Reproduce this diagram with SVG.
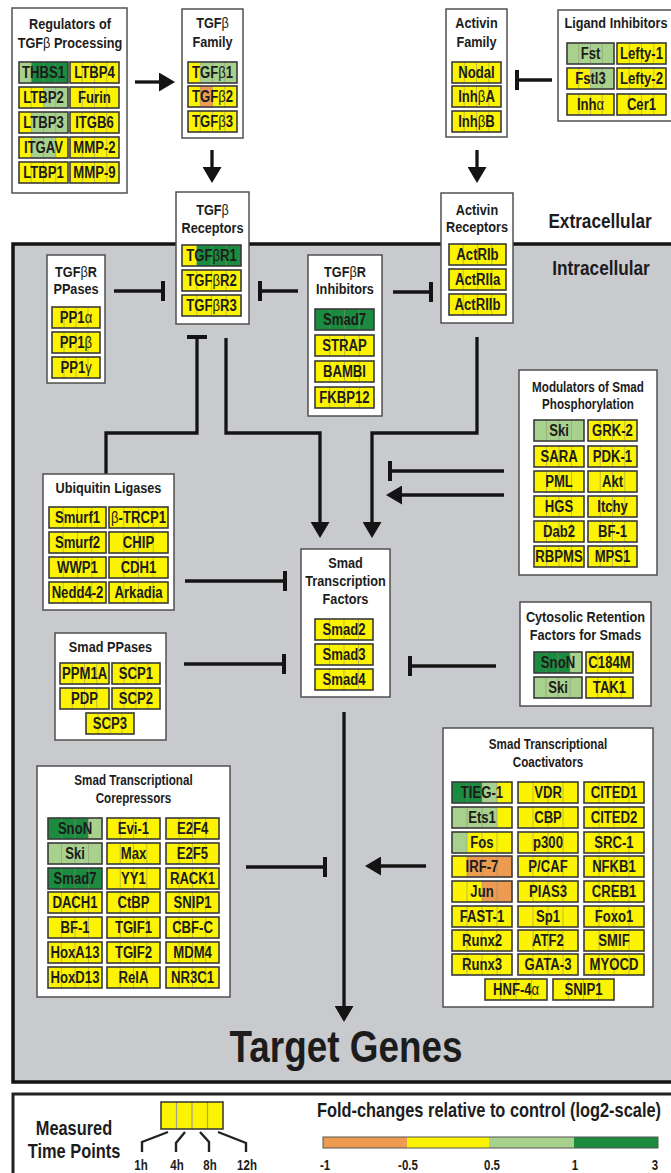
<svg xmlns="http://www.w3.org/2000/svg" width="671" height="1173" viewBox="0 0 671 1173">
<defs>
<style>
.n{fill:#fff;stroke:#505050;stroke-width:1.5}
.cb{fill:none;stroke:#3a3a3a;stroke-width:1.6}
.y{fill:#fbf300}.lg{fill:#a9d18e}.dg{fill:#1b8b3f}.o{fill:#ee9b52}
.dv{fill:none;stroke:#8f8f70;stroke-width:.9;stroke-opacity:.6}
text{font-family:"Liberation Sans",Arial,sans-serif;font-weight:bold;fill:#1c1c1c;text-anchor:middle;transform-box:fill-box;transform-origin:center;transform:scaleX(0.82)}
.ct{font-size:16px}
.tt{font-size:15.5px}
.ts{font-size:14.2px}
.g{font-weight:normal}
.ln{fill:none;stroke:#141414;stroke-width:3.3}
.ar{marker-end:url(#arr)}
.in{marker-end:url(#tee)}
.br{fill:none;stroke:#222;stroke-width:2.4}
</style>
<marker id="arr" markerUnits="userSpaceOnUse" viewBox="0 0 16 19" markerWidth="16" markerHeight="19" refX="8" refY="9.5" orient="auto"><path d="M0 0L16 9.5L0 19z" fill="#141414"/></marker>
<marker id="tee" markerUnits="userSpaceOnUse" viewBox="0 0 4 20" markerWidth="4" markerHeight="20" refX="2" refY="10" orient="auto"><rect width="4" height="20" fill="#141414"/></marker>
</defs>
<rect width="671" height="1173" fill="#fff"/>
<rect id="intracellular" x="13" y="244" width="700" height="838" fill="#c9cacd" stroke="#141414" stroke-width="3.5"/>
<text x="600" y="228" style="font-size:21px">Extracellular</text>
<text x="601" y="275" style="font-size:21px">Intracellular</text>

<g id="connectors">
<path class="ln ar" d="M135 82H167"/>
<path class="ln ar" d="M212 150V175"/>
<path class="ln ar" d="M477 150V175"/>
<path class="ln in" d="M552 80H517"/>
<path class="ln in" d="M114 291H163"/>
<path class="ln in" d="M298 291H260"/>
<path class="ln in" d="M393 292H431"/>
<path class="ln in" d="M106 474V433H197V337"/>
<path class="ln ar" d="M226 338V433H320V530"/>
<path class="ln ar" d="M477 337V433H372V530"/>
<path class="ln in" d="M504 471H390"/>
<path class="ln ar" d="M504 495H394"/>
<path class="ln in" d="M185 581H285"/>
<path class="ln in" d="M184 664H284"/>
<path class="ln in" d="M496 666H410"/>
<path class="ln ar" d="M344 712V1014"/>
<path class="ln ar" d="M426 866H373"/>
<path class="ln in" d="M246 867H325"/>
</g>

<g id="regulators">
<rect class="n" x="12" y="8" width="115" height="185"/>
<text class="tt" x="70" y="29">Regulators of</text>
<text class="tt" x="70" y="48">TGF<tspan class="g">β</tspan> Processing</text>
<g transform="translate(19 62)"><rect class="lg" width="12.25" height="21"/><rect class="dg" x="12.25" width="36.75" height="21"/><path class="dv" d="M12.25 0v21M24.5 0v21M36.75 0v21"/><rect class="cb" width="49" height="21"/><text class="ct" x="24.5" y="16.5">THBS1</text></g>
<g transform="translate(70 62)"><rect class="y" width="49" height="21"/><path class="dv" d="M12.25 0v21M24.5 0v21M36.75 0v21"/><rect class="cb" width="49" height="21"/><text class="ct" x="24.5" y="16.5">LTBP4</text></g>
<g transform="translate(19 87)"><rect class="y" width="24.5" height="21"/><rect class="lg" x="24.5" width="24.5" height="21"/><path class="dv" d="M12.25 0v21M24.5 0v21M36.75 0v21"/><rect class="cb" width="49" height="21"/><text class="ct" x="24.5" y="16.5">LTBP2</text></g>
<g transform="translate(70 87)"><rect class="y" width="49" height="21"/><path class="dv" d="M12.25 0v21M24.5 0v21M36.75 0v21"/><rect class="cb" width="49" height="21"/><text class="ct" x="24.5" y="16.5">Furin</text></g>
<g transform="translate(19 112)"><rect class="y" width="12.25" height="21"/><rect class="lg" x="12.25" width="36.75" height="21"/><path class="dv" d="M12.25 0v21M24.5 0v21M36.75 0v21"/><rect class="cb" width="49" height="21"/><text class="ct" x="24.5" y="16.5">LTBP3</text></g>
<g transform="translate(70 112)"><rect class="y" width="49" height="21"/><path class="dv" d="M12.25 0v21M24.5 0v21M36.75 0v21"/><rect class="cb" width="49" height="21"/><text class="ct" x="24.5" y="16.5">ITGB6</text></g>
<g transform="translate(19 137)"><rect class="y" width="49" height="21"/><rect class="lg" x="12.25" width="24.5" height="21"/><path class="dv" d="M12.25 0v21M24.5 0v21M36.75 0v21"/><rect class="cb" width="49" height="21"/><text class="ct" x="24.5" y="16.5">ITGAV</text></g>
<g transform="translate(70 137)"><rect class="y" width="49" height="21"/><path class="dv" d="M12.25 0v21M24.5 0v21M36.75 0v21"/><rect class="cb" width="49" height="21"/><text class="ct" x="24.5" y="16.5">MMP-2</text></g>
<g transform="translate(19 162)"><rect class="y" width="49" height="21"/><path class="dv" d="M12.25 0v21M24.5 0v21M36.75 0v21"/><rect class="cb" width="49" height="21"/><text class="ct" x="24.5" y="16.5">LTBP1</text></g>
<g transform="translate(70 162)"><rect class="y" width="49" height="21"/><path class="dv" d="M12.25 0v21M24.5 0v21M36.75 0v21"/><rect class="cb" width="49" height="21"/><text class="ct" x="24.5" y="16.5">MMP-9</text></g>
</g>

<g id="tgfb-family">
<rect class="n" x="182" y="9" width="61" height="129"/>
<text class="tt" x="212.5" y="28">TGF<tspan class="g">β</tspan></text>
<text class="tt" x="212.5" y="47">Family</text>
<g transform="translate(188 62)"><rect class="y" width="12.25" height="21"/><rect class="lg" x="12.25" width="36.75" height="21"/><path class="dv" d="M12.25 0v21M24.5 0v21M36.75 0v21"/><rect class="cb" width="49" height="21"/><text class="ct" x="24.5" y="16.5">TGF<tspan class="g">β</tspan>1</text></g>
<g transform="translate(188 86)"><rect class="y" width="49" height="21"/><rect class="o" x="12.25" width="12.25" height="21"/><path class="dv" d="M12.25 0v21M24.5 0v21M36.75 0v21"/><rect class="cb" width="49" height="21"/><text class="ct" x="24.5" y="16.5">TGF<tspan class="g">β</tspan>2</text></g>
<g transform="translate(188 111)"><rect class="y" width="49" height="21"/><path class="dv" d="M12.25 0v21M24.5 0v21M36.75 0v21"/><rect class="cb" width="49" height="21"/><text class="ct" x="24.5" y="16.5">TGF<tspan class="g">β</tspan>3</text></g>
</g>

<g id="activin-family">
<rect class="n" x="446" y="9" width="61" height="128"/>
<text class="tt" x="476.5" y="28">Activin</text>
<text class="tt" x="476.5" y="47">Family</text>
<g transform="translate(452 62)"><rect class="y" width="49" height="21"/><path class="dv" d="M12.25 0v21M24.5 0v21M36.75 0v21"/><rect class="cb" width="49" height="21"/><text class="ct" x="24.5" y="16.5">Nodal</text></g>
<g transform="translate(452 86)"><rect class="y" width="49" height="21"/><path class="dv" d="M12.25 0v21M24.5 0v21M36.75 0v21"/><rect class="cb" width="49" height="21"/><text class="ct" x="24.5" y="16.5">Inh<tspan class="g">β</tspan>A</text></g>
<g transform="translate(452 111)"><rect class="y" width="49" height="21"/><path class="dv" d="M12.25 0v21M24.5 0v21M36.75 0v21"/><rect class="cb" width="49" height="21"/><text class="ct" x="24.5" y="16.5">Inh<tspan class="g">β</tspan>B</text></g>
</g>

<g id="ligand-inhibitors">
<rect class="n" x="558" y="10" width="130" height="111"/>
<text class="tt" x="616" y="28">Ligand Inhibitors</text>
<g transform="translate(567 43)"><rect class="lg" width="47" height="21"/><path class="dv" d="M11.75 0v21M23.5 0v21M35.25 0v21"/><rect class="cb" width="47" height="21"/><text class="ct" x="23.5" y="16.5">Fst</text></g>
<g transform="translate(617 43)"><rect class="y" width="49" height="21"/><path class="dv" d="M12.25 0v21M24.5 0v21M36.75 0v21"/><rect class="cb" width="49" height="21"/><text class="ct" x="24.5" y="16.5">Lefty-1</text></g>
<g transform="translate(567 68)"><rect class="y" width="23.5" height="21"/><rect class="lg" x="23.5" width="23.5" height="21"/><path class="dv" d="M11.75 0v21M23.5 0v21M35.25 0v21"/><rect class="cb" width="47" height="21"/><text class="ct" x="23.5" y="16.5">Fstl3</text></g>
<g transform="translate(617 68)"><rect class="y" width="49" height="21"/><path class="dv" d="M12.25 0v21M24.5 0v21M36.75 0v21"/><rect class="cb" width="49" height="21"/><text class="ct" x="24.5" y="16.5">Lefty-2</text></g>
<g transform="translate(567 94)"><rect class="y" width="47" height="21"/><path class="dv" d="M11.75 0v21M23.5 0v21M35.25 0v21"/><rect class="cb" width="47" height="21"/><text class="ct" x="23.5" y="16.5">Inh<tspan class="g">α</tspan></text></g>
<g transform="translate(617 94)"><rect class="y" width="49" height="21"/><path class="dv" d="M12.25 0v21M24.5 0v21M36.75 0v21"/><rect class="cb" width="49" height="21"/><text class="ct" x="24.5" y="16.5">Cer1</text></g>
</g>

<g id="tgfb-receptors">
<rect class="n" x="176" y="192" width="73" height="132"/>
<text class="tt" x="212.5" y="215">TGF<tspan class="g">β</tspan></text>
<text class="tt" x="212.5" y="233">Receptors</text>
<g transform="translate(182 245)"><rect class="y" width="14.75" height="21"/><rect class="dg" x="14.75" width="44.25" height="21"/><path class="dv" d="M14.75 0v21M29.5 0v21M44.25 0v21"/><rect class="cb" width="59" height="21"/><text class="ct" x="29.5" y="16.5">TGF<tspan class="g">β</tspan>R1</text></g>
<g transform="translate(182 270)"><rect class="y" width="59" height="21"/><path class="dv" d="M14.75 0v21M29.5 0v21M44.25 0v21"/><rect class="cb" width="59" height="21"/><text class="ct" x="29.5" y="16.5">TGF<tspan class="g">β</tspan>R2</text></g>
<g transform="translate(182 295)"><rect class="y" width="59" height="21"/><path class="dv" d="M14.75 0v21M29.5 0v21M44.25 0v21"/><rect class="cb" width="59" height="21"/><text class="ct" x="29.5" y="16.5">TGF<tspan class="g">β</tspan>R3</text></g>
</g>

<g id="activin-receptors">
<rect class="n" x="441" y="193" width="72" height="130"/>
<text class="tt" x="477" y="215">Activin</text>
<text class="tt" x="477" y="232">Receptors</text>
<g transform="translate(449 244)"><rect class="y" width="57" height="21"/><path class="dv" d="M14.25 0v21M28.5 0v21M42.75 0v21"/><rect class="cb" width="57" height="21"/><text class="ct" x="28.5" y="16.5">ActRIb</text></g>
<g transform="translate(449 269)"><rect class="y" width="57" height="21"/><path class="dv" d="M14.25 0v21M28.5 0v21M42.75 0v21"/><rect class="cb" width="57" height="21"/><text class="ct" x="28.5" y="16.5">ActRIIa</text></g>
<g transform="translate(449 294)"><rect class="y" width="57" height="21"/><path class="dv" d="M14.25 0v21M28.5 0v21M42.75 0v21"/><rect class="cb" width="57" height="21"/><text class="ct" x="28.5" y="16.5">ActRIIb</text></g>
</g>

<g id="tgfbr-ppases">
<rect class="n" x="47" y="255" width="58" height="128"/>
<text class="tt" x="76" y="277">TGF<tspan class="g">β</tspan>R</text>
<text class="tt" x="76" y="294">PPases</text>
<g transform="translate(52 307)"><rect class="y" width="48" height="21"/><path class="dv" d="M12 0v21M24 0v21M36 0v21"/><rect class="cb" width="48" height="21"/><text class="ct" x="24" y="16.5">PP1<tspan class="g">α</tspan></text></g>
<g transform="translate(52 332)"><rect class="y" width="48" height="21"/><path class="dv" d="M12 0v21M24 0v21M36 0v21"/><rect class="cb" width="48" height="21"/><text class="ct" x="24" y="16.5">PP1<tspan class="g">β</tspan></text></g>
<g transform="translate(52 357)"><rect class="y" width="48" height="21"/><path class="dv" d="M12 0v21M24 0v21M36 0v21"/><rect class="cb" width="48" height="21"/><text class="ct" x="24" y="16.5">PP1<tspan class="g">γ</tspan></text></g>
</g>

<g id="tgfbr-inhibitors">
<rect class="n" x="308" y="255" width="74" height="161"/>
<text class="tt" x="345" y="277">TGF<tspan class="g">β</tspan>R</text>
<text class="tt" x="345" y="294">Inhibitors</text>
<g transform="translate(315 309)"><rect class="dg" width="59" height="21"/><path class="dv" d="M14.75 0v21M29.5 0v21M44.25 0v21"/><rect class="cb" width="59" height="21"/><text class="ct" x="29.5" y="16.5">Smad7</text></g>
<g transform="translate(315 335)"><rect class="y" width="59" height="21"/><path class="dv" d="M14.75 0v21M29.5 0v21M44.25 0v21"/><rect class="cb" width="59" height="21"/><text class="ct" x="29.5" y="16.5">STRAP</text></g>
<g transform="translate(315 361)"><rect class="y" width="59" height="21"/><path class="dv" d="M14.75 0v21M29.5 0v21M44.25 0v21"/><rect class="cb" width="59" height="21"/><text class="ct" x="29.5" y="16.5">BAMBI</text></g>
<g transform="translate(315 387)"><rect class="y" width="59" height="21"/><path class="dv" d="M14.75 0v21M29.5 0v21M44.25 0v21"/><rect class="cb" width="59" height="21"/><text class="ct" x="29.5" y="16.5">FKBP12</text></g>
</g>

<g id="ubiquitin-ligases">
<rect class="n" x="43" y="474" width="131" height="136"/>
<text class="tt" x="108.5" y="493">Ubiquitin Ligases</text>
<g transform="translate(49 507)"><rect class="y" width="57" height="21"/><path class="dv" d="M14.25 0v21M28.5 0v21M42.75 0v21"/><rect class="cb" width="57" height="21"/><text class="ct" x="28.5" y="16.5">Smurf1</text></g>
<g transform="translate(109 507)"><rect class="y" width="59" height="21"/><path class="dv" d="M14.75 0v21M29.5 0v21M44.25 0v21"/><rect class="cb" width="59" height="21"/><text class="ct" x="29.5" y="16.5"><tspan class="g">β</tspan>-TRCP1</text></g>
<g transform="translate(49 532)"><rect class="y" width="57" height="21"/><path class="dv" d="M14.25 0v21M28.5 0v21M42.75 0v21"/><rect class="cb" width="57" height="21"/><text class="ct" x="28.5" y="16.5">Smurf2</text></g>
<g transform="translate(109 532)"><rect class="y" width="59" height="21"/><path class="dv" d="M14.75 0v21M29.5 0v21M44.25 0v21"/><rect class="cb" width="59" height="21"/><text class="ct" x="29.5" y="16.5">CHIP</text></g>
<g transform="translate(49 557)"><rect class="y" width="57" height="21"/><path class="dv" d="M14.25 0v21M28.5 0v21M42.75 0v21"/><rect class="cb" width="57" height="21"/><text class="ct" x="28.5" y="16.5">WWP1</text></g>
<g transform="translate(109 557)"><rect class="y" width="59" height="21"/><path class="dv" d="M14.75 0v21M29.5 0v21M44.25 0v21"/><rect class="cb" width="59" height="21"/><text class="ct" x="29.5" y="16.5">CDH1</text></g>
<g transform="translate(49 582)"><rect class="y" width="57" height="21"/><path class="dv" d="M14.25 0v21M28.5 0v21M42.75 0v21"/><rect class="cb" width="57" height="21"/><text class="ct" x="28.5" y="16.5">Nedd4-2</text></g>
<g transform="translate(109 582)"><rect class="y" width="59" height="21"/><path class="dv" d="M14.75 0v21M29.5 0v21M44.25 0v21"/><rect class="cb" width="59" height="21"/><text class="ct" x="29.5" y="16.5">Arkadia</text></g>
</g>

<g id="smad-ppases">
<rect class="n" x="55" y="633" width="111" height="107"/>
<text class="tt" x="110.5" y="652">Smad PPases</text>
<g transform="translate(60 663)"><rect class="y" width="49" height="21"/><path class="dv" d="M12.25 0v21M24.5 0v21M36.75 0v21"/><rect class="cb" width="49" height="21"/><text class="ct" x="24.5" y="16.5">PPM1A</text></g>
<g transform="translate(112 663)"><rect class="y" width="48" height="21"/><path class="dv" d="M12 0v21M24 0v21M36 0v21"/><rect class="cb" width="48" height="21"/><text class="ct" x="24" y="16.5">SCP1</text></g>
<g transform="translate(60 688)"><rect class="y" width="49" height="21"/><path class="dv" d="M12.25 0v21M24.5 0v21M36.75 0v21"/><rect class="cb" width="49" height="21"/><text class="ct" x="24.5" y="16.5">PDP</text></g>
<g transform="translate(112 688)"><rect class="y" width="48" height="21"/><path class="dv" d="M12 0v21M24 0v21M36 0v21"/><rect class="cb" width="48" height="21"/><text class="ct" x="24" y="16.5">SCP2</text></g>
<g transform="translate(86 713)"><rect class="y" width="48" height="21"/><path class="dv" d="M12 0v21M24 0v21M36 0v21"/><rect class="cb" width="48" height="21"/><text class="ct" x="24" y="16.5">SCP3</text></g>
</g>

<g id="smad-transcription-factors">
<rect class="n" x="301" y="549" width="89" height="148"/>
<text class="tt" x="345.5" y="568">Smad</text>
<text class="tt" x="345.5" y="586">Transcription</text>
<text class="tt" x="345.5" y="604">Factors</text>
<g transform="translate(315 619)"><rect class="y" width="58" height="21"/><path class="dv" d="M14.5 0v21M29 0v21M43.5 0v21"/><rect class="cb" width="58" height="21"/><text class="ct" x="29" y="16.5">Smad2</text></g>
<g transform="translate(315 644)"><rect class="y" width="58" height="21"/><path class="dv" d="M14.5 0v21M29 0v21M43.5 0v21"/><rect class="cb" width="58" height="21"/><text class="ct" x="29" y="16.5">Smad3</text></g>
<g transform="translate(315 669)"><rect class="y" width="58" height="21"/><path class="dv" d="M14.5 0v21M29 0v21M43.5 0v21"/><rect class="cb" width="58" height="21"/><text class="ct" x="29" y="16.5">Smad4</text></g>
</g>

<g id="modulators-smad-phosphorylation">
<rect class="n" x="519" y="370" width="138" height="205"/>
<text class="ts" x="588" y="392">Modulators of Smad</text>
<text class="ts" x="588" y="409">Phosphorylation</text>
<g transform="translate(534 420)"><rect class="lg" width="50" height="21"/><path class="dv" d="M12.5 0v21M25 0v21M37.5 0v21"/><rect class="cb" width="50" height="21"/><text class="ct" x="25" y="16.5">Ski</text></g>
<g transform="translate(588 420)"><rect class="y" width="49" height="21"/><path class="dv" d="M12.25 0v21M24.5 0v21M36.75 0v21"/><rect class="cb" width="49" height="21"/><text class="ct" x="24.5" y="16.5">GRK-2</text></g>
<g transform="translate(534 446)"><rect class="y" width="50" height="21"/><path class="dv" d="M12.5 0v21M25 0v21M37.5 0v21"/><rect class="cb" width="50" height="21"/><text class="ct" x="25" y="16.5">SARA</text></g>
<g transform="translate(588 446)"><rect class="y" width="49" height="21"/><path class="dv" d="M12.25 0v21M24.5 0v21M36.75 0v21"/><rect class="cb" width="49" height="21"/><text class="ct" x="24.5" y="16.5">PDK-1</text></g>
<g transform="translate(534 471)"><rect class="y" width="50" height="21"/><path class="dv" d="M12.5 0v21M25 0v21M37.5 0v21"/><rect class="cb" width="50" height="21"/><text class="ct" x="25" y="16.5">PML</text></g>
<g transform="translate(588 471)"><rect class="y" width="49" height="21"/><path class="dv" d="M12.25 0v21M24.5 0v21M36.75 0v21"/><rect class="cb" width="49" height="21"/><text class="ct" x="24.5" y="16.5">Akt</text></g>
<g transform="translate(534 496)"><rect class="y" width="50" height="21"/><path class="dv" d="M12.5 0v21M25 0v21M37.5 0v21"/><rect class="cb" width="50" height="21"/><text class="ct" x="25" y="16.5">HGS</text></g>
<g transform="translate(588 496)"><rect class="y" width="49" height="21"/><path class="dv" d="M12.25 0v21M24.5 0v21M36.75 0v21"/><rect class="cb" width="49" height="21"/><text class="ct" x="24.5" y="16.5">Itchy</text></g>
<g transform="translate(534 521)"><rect class="y" width="50" height="21"/><path class="dv" d="M12.5 0v21M25 0v21M37.5 0v21"/><rect class="cb" width="50" height="21"/><text class="ct" x="25" y="16.5">Dab2</text></g>
<g transform="translate(588 521)"><rect class="y" width="49" height="21"/><path class="dv" d="M12.25 0v21M24.5 0v21M36.75 0v21"/><rect class="cb" width="49" height="21"/><text class="ct" x="24.5" y="16.5">BF-1</text></g>
<g transform="translate(534 546)"><rect class="y" width="50" height="21"/><path class="dv" d="M12.5 0v21M25 0v21M37.5 0v21"/><rect class="cb" width="50" height="21"/><text class="ct" x="25" y="16.5">RBPMS</text></g>
<g transform="translate(588 546)"><rect class="y" width="49" height="21"/><path class="dv" d="M12.25 0v21M24.5 0v21M36.75 0v21"/><rect class="cb" width="49" height="21"/><text class="ct" x="24.5" y="16.5">MPS1</text></g>
</g>

<g id="cytosolic-retention-factors">
<rect class="n" x="520" y="602" width="131" height="104"/>
<text class="tt" x="585.5" y="622">Cytosolic Retention</text>
<text class="tt" x="585.5" y="640">Factors for Smads</text>
<g transform="translate(534 652)"><rect class="dg" width="36" height="21"/><rect class="lg" x="36" width="12" height="21"/><path class="dv" d="M12 0v21M24 0v21M36 0v21"/><rect class="cb" width="48" height="21"/><text class="ct" x="24" y="16.5">SnoN</text></g>
<g transform="translate(586 652)"><rect class="y" width="47" height="21"/><path class="dv" d="M11.75 0v21M23.5 0v21M35.25 0v21"/><rect class="cb" width="47" height="21"/><text class="ct" x="23.5" y="16.5">C184M</text></g>
<g transform="translate(534 677)"><rect class="lg" width="48" height="21"/><path class="dv" d="M12 0v21M24 0v21M36 0v21"/><rect class="cb" width="48" height="21"/><text class="ct" x="24" y="16.5">Ski</text></g>
<g transform="translate(586 677)"><rect class="y" width="47" height="21"/><path class="dv" d="M11.75 0v21M23.5 0v21M35.25 0v21"/><rect class="cb" width="47" height="21"/><text class="ct" x="23.5" y="16.5">TAK1</text></g>
</g>

<g id="smad-coactivators">
<rect class="n" x="443" y="728" width="210" height="279"/>
<text class="ts" x="548" y="749">Smad Transcriptional</text>
<text class="ts" x="548" y="767">Coactivators</text>
<g transform="translate(452 782)"><rect class="dg" width="30" height="21"/><rect class="lg" x="30" width="15" height="21"/><rect class="y" x="45" width="15" height="21"/><path class="dv" d="M15 0v21M30 0v21M45 0v21"/><rect class="cb" width="60" height="21"/><text class="ct" x="30" y="16.5">TIEG-1</text></g>
<g transform="translate(518 782)"><rect class="y" width="60" height="21"/><path class="dv" d="M15 0v21M30 0v21M45 0v21"/><rect class="cb" width="60" height="21"/><text class="ct" x="30" y="16.5">VDR</text></g>
<g transform="translate(584 782)"><rect class="y" width="60" height="21"/><path class="dv" d="M15 0v21M30 0v21M45 0v21"/><rect class="cb" width="60" height="21"/><text class="ct" x="30" y="16.5">CITED1</text></g>
<g transform="translate(452 807)"><rect class="lg" width="45" height="21"/><rect class="y" x="45" width="15" height="21"/><path class="dv" d="M15 0v21M30 0v21M45 0v21"/><rect class="cb" width="60" height="21"/><text class="ct" x="30" y="16.5">Ets1</text></g>
<g transform="translate(518 807)"><rect class="y" width="60" height="21"/><path class="dv" d="M15 0v21M30 0v21M45 0v21"/><rect class="cb" width="60" height="21"/><text class="ct" x="30" y="16.5">CBP</text></g>
<g transform="translate(584 807)"><rect class="y" width="60" height="21"/><path class="dv" d="M15 0v21M30 0v21M45 0v21"/><rect class="cb" width="60" height="21"/><text class="ct" x="30" y="16.5">CITED2</text></g>
<g transform="translate(452 832)"><rect class="lg" width="15" height="21"/><rect class="y" x="15" width="45" height="21"/><path class="dv" d="M15 0v21M30 0v21M45 0v21"/><rect class="cb" width="60" height="21"/><text class="ct" x="30" y="16.5">Fos</text></g>
<g transform="translate(518 832)"><rect class="y" width="60" height="21"/><path class="dv" d="M15 0v21M30 0v21M45 0v21"/><rect class="cb" width="60" height="21"/><text class="ct" x="30" y="16.5">p300</text></g>
<g transform="translate(584 832)"><rect class="y" width="60" height="21"/><path class="dv" d="M15 0v21M30 0v21M45 0v21"/><rect class="cb" width="60" height="21"/><text class="ct" x="30" y="16.5">SRC-1</text></g>
<g transform="translate(452 856)"><rect class="y" width="15" height="21"/><rect class="o" x="15" width="45" height="21"/><path class="dv" d="M15 0v21M30 0v21M45 0v21"/><rect class="cb" width="60" height="21"/><text class="ct" x="30" y="16.5">IRF-7</text></g>
<g transform="translate(518 856)"><rect class="y" width="60" height="21"/><path class="dv" d="M15 0v21M30 0v21M45 0v21"/><rect class="cb" width="60" height="21"/><text class="ct" x="30" y="16.5">P/CAF</text></g>
<g transform="translate(584 856)"><rect class="y" width="60" height="21"/><path class="dv" d="M15 0v21M30 0v21M45 0v21"/><rect class="cb" width="60" height="21"/><text class="ct" x="30" y="16.5">NFKB1</text></g>
<g transform="translate(452 881)"><rect class="y" width="30" height="21"/><rect class="o" x="30" width="30" height="21"/><path class="dv" d="M15 0v21M30 0v21M45 0v21"/><rect class="cb" width="60" height="21"/><text class="ct" x="30" y="16.5">Jun</text></g>
<g transform="translate(518 881)"><rect class="y" width="60" height="21"/><path class="dv" d="M15 0v21M30 0v21M45 0v21"/><rect class="cb" width="60" height="21"/><text class="ct" x="30" y="16.5">PIAS3</text></g>
<g transform="translate(584 881)"><rect class="y" width="60" height="21"/><path class="dv" d="M15 0v21M30 0v21M45 0v21"/><rect class="cb" width="60" height="21"/><text class="ct" x="30" y="16.5">CREB1</text></g>
<g transform="translate(452 906)"><rect class="y" width="60" height="21"/><path class="dv" d="M15 0v21M30 0v21M45 0v21"/><rect class="cb" width="60" height="21"/><text class="ct" x="30" y="16.5">FAST-1</text></g>
<g transform="translate(518 906)"><rect class="y" width="60" height="21"/><path class="dv" d="M15 0v21M30 0v21M45 0v21"/><rect class="cb" width="60" height="21"/><text class="ct" x="30" y="16.5">Sp1</text></g>
<g transform="translate(584 906)"><rect class="y" width="60" height="21"/><path class="dv" d="M15 0v21M30 0v21M45 0v21"/><rect class="cb" width="60" height="21"/><text class="ct" x="30" y="16.5">Foxo1</text></g>
<g transform="translate(452 930)"><rect class="y" width="60" height="21"/><path class="dv" d="M15 0v21M30 0v21M45 0v21"/><rect class="cb" width="60" height="21"/><text class="ct" x="30" y="16.5">Runx2</text></g>
<g transform="translate(518 930)"><rect class="y" width="60" height="21"/><path class="dv" d="M15 0v21M30 0v21M45 0v21"/><rect class="cb" width="60" height="21"/><text class="ct" x="30" y="16.5">ATF2</text></g>
<g transform="translate(584 930)"><rect class="y" width="60" height="21"/><path class="dv" d="M15 0v21M30 0v21M45 0v21"/><rect class="cb" width="60" height="21"/><text class="ct" x="30" y="16.5">SMIF</text></g>
<g transform="translate(452 954)"><rect class="y" width="60" height="21"/><path class="dv" d="M15 0v21M30 0v21M45 0v21"/><rect class="cb" width="60" height="21"/><text class="ct" x="30" y="16.5">Runx3</text></g>
<g transform="translate(518 954)"><rect class="y" width="60" height="21"/><path class="dv" d="M15 0v21M30 0v21M45 0v21"/><rect class="cb" width="60" height="21"/><text class="ct" x="30" y="16.5">GATA-3</text></g>
<g transform="translate(584 954)"><rect class="y" width="60" height="21"/><path class="dv" d="M15 0v21M30 0v21M45 0v21"/><rect class="cb" width="60" height="21"/><text class="ct" x="30" y="16.5">MYOCD</text></g>
<g transform="translate(485 979)"><rect class="y" width="62" height="21"/><path class="dv" d="M15.5 0v21M31 0v21M46.5 0v21"/><rect class="cb" width="62" height="21"/><text class="ct" x="31" y="16.5">HNF-4<tspan class="g">α</tspan></text></g>
<g transform="translate(553 979)"><rect class="y" width="61" height="21"/><path class="dv" d="M15.25 0v21M30.5 0v21M45.75 0v21"/><rect class="cb" width="61" height="21"/><text class="ct" x="30.5" y="16.5">SNIP1</text></g>
</g>

<g id="smad-corepressors">
<rect class="n" x="37" y="766" width="193" height="231"/>
<text class="ts" x="133.5" y="785">Smad Transcriptional</text>
<text class="ts" x="133.5" y="803">Corepressors</text>
<g transform="translate(48 818)"><rect class="dg" width="40.5" height="21"/><rect class="lg" x="40.5" width="13.5" height="21"/><path class="dv" d="M13.5 0v21M27 0v21M40.5 0v21"/><rect class="cb" width="54" height="21"/><text class="ct" x="27" y="16.5">SnoN</text></g>
<g transform="translate(107 818)"><rect class="y" width="53" height="21"/><path class="dv" d="M13.25 0v21M26.5 0v21M39.75 0v21"/><rect class="cb" width="53" height="21"/><text class="ct" x="26.5" y="16.5">Evi-1</text></g>
<g transform="translate(166 818)"><rect class="y" width="53" height="21"/><path class="dv" d="M13.25 0v21M26.5 0v21M39.75 0v21"/><rect class="cb" width="53" height="21"/><text class="ct" x="26.5" y="16.5">E2F4</text></g>
<g transform="translate(48 843)"><rect class="lg" width="54" height="21"/><path class="dv" d="M13.5 0v21M27 0v21M40.5 0v21"/><rect class="cb" width="54" height="21"/><text class="ct" x="27" y="16.5">Ski</text></g>
<g transform="translate(107 843)"><rect class="y" width="53" height="21"/><path class="dv" d="M13.25 0v21M26.5 0v21M39.75 0v21"/><rect class="cb" width="53" height="21"/><text class="ct" x="26.5" y="16.5">Max</text></g>
<g transform="translate(166 843)"><rect class="y" width="53" height="21"/><path class="dv" d="M13.25 0v21M26.5 0v21M39.75 0v21"/><rect class="cb" width="53" height="21"/><text class="ct" x="26.5" y="16.5">E2F5</text></g>
<g transform="translate(48 868)"><rect class="dg" width="54" height="21"/><path class="dv" d="M13.5 0v21M27 0v21M40.5 0v21"/><rect class="cb" width="54" height="21"/><text class="ct" x="27" y="16.5">Smad7</text></g>
<g transform="translate(107 868)"><rect class="y" width="53" height="21"/><path class="dv" d="M13.25 0v21M26.5 0v21M39.75 0v21"/><rect class="cb" width="53" height="21"/><text class="ct" x="26.5" y="16.5">YY1</text></g>
<g transform="translate(166 868)"><rect class="y" width="53" height="21"/><path class="dv" d="M13.25 0v21M26.5 0v21M39.75 0v21"/><rect class="cb" width="53" height="21"/><text class="ct" x="26.5" y="16.5">RACK1</text></g>
<g transform="translate(48 892)"><rect class="y" width="54" height="21"/><path class="dv" d="M13.5 0v21M27 0v21M40.5 0v21"/><rect class="cb" width="54" height="21"/><text class="ct" x="27" y="16.5">DACH1</text></g>
<g transform="translate(107 892)"><rect class="y" width="53" height="21"/><path class="dv" d="M13.25 0v21M26.5 0v21M39.75 0v21"/><rect class="cb" width="53" height="21"/><text class="ct" x="26.5" y="16.5">CtBP</text></g>
<g transform="translate(166 892)"><rect class="y" width="53" height="21"/><path class="dv" d="M13.25 0v21M26.5 0v21M39.75 0v21"/><rect class="cb" width="53" height="21"/><text class="ct" x="26.5" y="16.5">SNIP1</text></g>
<g transform="translate(48 917)"><rect class="y" width="54" height="21"/><path class="dv" d="M13.5 0v21M27 0v21M40.5 0v21"/><rect class="cb" width="54" height="21"/><text class="ct" x="27" y="16.5">BF-1</text></g>
<g transform="translate(107 917)"><rect class="y" width="53" height="21"/><path class="dv" d="M13.25 0v21M26.5 0v21M39.75 0v21"/><rect class="cb" width="53" height="21"/><text class="ct" x="26.5" y="16.5">TGIF1</text></g>
<g transform="translate(166 917)"><rect class="y" width="53" height="21"/><path class="dv" d="M13.25 0v21M26.5 0v21M39.75 0v21"/><rect class="cb" width="53" height="21"/><text class="ct" x="26.5" y="16.5">CBF-C</text></g>
<g transform="translate(48 942)"><rect class="y" width="54" height="21"/><path class="dv" d="M13.5 0v21M27 0v21M40.5 0v21"/><rect class="cb" width="54" height="21"/><text class="ct" x="27" y="16.5">HoxA13</text></g>
<g transform="translate(107 942)"><rect class="y" width="53" height="21"/><path class="dv" d="M13.25 0v21M26.5 0v21M39.75 0v21"/><rect class="cb" width="53" height="21"/><text class="ct" x="26.5" y="16.5">TGIF2</text></g>
<g transform="translate(166 942)"><rect class="y" width="53" height="21"/><path class="dv" d="M13.25 0v21M26.5 0v21M39.75 0v21"/><rect class="cb" width="53" height="21"/><text class="ct" x="26.5" y="16.5">MDM4</text></g>
<g transform="translate(48 967)"><rect class="y" width="54" height="21"/><path class="dv" d="M13.5 0v21M27 0v21M40.5 0v21"/><rect class="cb" width="54" height="21"/><text class="ct" x="27" y="16.5">HoxD13</text></g>
<g transform="translate(107 967)"><rect class="y" width="53" height="21"/><path class="dv" d="M13.25 0v21M26.5 0v21M39.75 0v21"/><rect class="cb" width="53" height="21"/><text class="ct" x="26.5" y="16.5">RelA</text></g>
<g transform="translate(166 967)"><rect class="y" width="53" height="21"/><path class="dv" d="M13.25 0v21M26.5 0v21M39.75 0v21"/><rect class="cb" width="53" height="21"/><text class="ct" x="26.5" y="16.5">NR3C1</text></g>
</g>

<g id="target-genes">
<text x="346" y="1062" style="font-size:45px">Target Genes</text>
</g>

<g id="legend">
<rect x="13" y="1094" width="700" height="120" fill="#fff" stroke="#222" stroke-width="3"/>
<text x="74" y="1135" style="font-size:20px">Measured</text>
<text x="74" y="1158" style="font-size:20px">Time Points</text>
<rect class="y" x="161" y="1102" width="62" height="27"/>
<path d="M176.5 1102v27M192 1102v27M207.5 1102v27" stroke="#a0a090" stroke-width="1.2"/>
<rect x="161" y="1102" width="62" height="27" fill="none" stroke="#333" stroke-width="1.5"/>
<path class="br" d="M168 1132L142 1142V1152M185 1132L176 1143V1152M200 1132L209 1142V1152M218 1132L246 1143V1152"/>
<text x="141" y="1170" style="font-size:14px">1h</text>
<text x="177" y="1170" style="font-size:14px">4h</text>
<text x="210" y="1170" style="font-size:14px">8h</text>
<text x="247" y="1170" style="font-size:14px">12h</text>
<text x="489" y="1117" style="font-size:20px">Fold-changes relative to control (log2-scale)</text>
<rect class="o" x="323" y="1137" width="84" height="11"/>
<rect class="y" x="407" y="1137" width="82" height="11"/>
<rect class="lg" x="489" y="1137" width="85" height="11"/>
<rect class="dg" x="574" y="1137" width="84" height="11"/>
<rect x="323" y="1137" width="335" height="11" fill="none" stroke="#555" stroke-width="1"/>
<text x="325" y="1170" style="font-size:14px">-1</text>
<text x="408" y="1170" style="font-size:14px">-0.5</text>
<text x="492" y="1170" style="font-size:14px">0.5</text>
<text x="575" y="1170" style="font-size:14px">1</text>
<text x="655" y="1170" style="font-size:14px">3</text>
</g>
</svg>
